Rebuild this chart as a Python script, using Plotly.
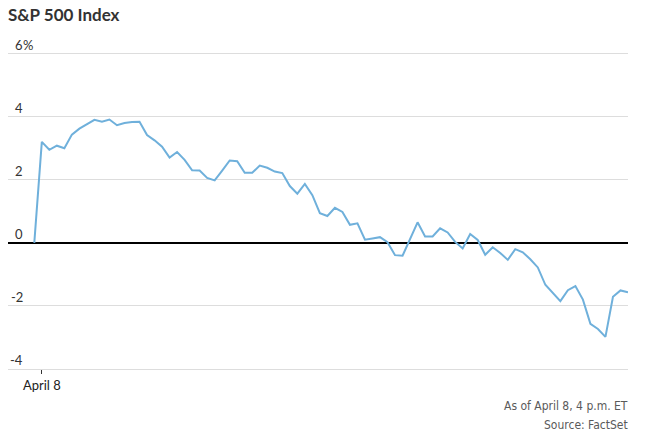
import plotly.graph_objects as go

# Percent change of the S&P 500 vs. previous close, 5-minute intervals (first point = previous close)
pct_change = [
    0.00, 3.20, 2.95, 3.08, 3.00, 3.43, 3.62, 3.75, 3.90, 3.84,
    3.91, 3.73, 3.80, 3.83, 3.84, 3.42, 3.25, 3.05, 2.70, 2.88,
    2.63, 2.30, 2.29, 2.06, 1.98, 2.29, 2.61, 2.59, 2.22, 2.22,
    2.45, 2.38, 2.26, 2.21, 1.80, 1.56, 1.87, 1.51, 0.94, 0.85,
    1.11, 0.98, 0.57, 0.62, 0.10, 0.14, 0.18, 0.02, -0.39, -0.41,
    0.11, 0.65, 0.20, 0.20, 0.46, 0.33, 0.03, -0.18, 0.28, 0.09,
    -0.38, -0.14, -0.32, -0.54, -0.20, -0.30, -0.52, -0.78, -1.33, -1.58,
    -1.85, -1.50, -1.37, -1.80, -2.57, -2.73, -2.98, -1.71, -1.51, -1.57,
]
x_index = list(range(len(pct_change)))

y_tick_vals = [-4, -2, 0, 2, 4, 6]
y_tick_labels = ["-4", "-2", "0", "2", "4", "6"]
y_top_suffix = "%"

x_tick_vals = [1]
x_tick_labels = ["April 8"]

title_text = "S&P 500 Index"
note_lines = ["As of April 8, 4 p.m. ET", "Source: FactSet"]

W, H = 648, 438
M_L, M_R, M_T, M_B = 8, 20, 52, 69
plot_h = H - M_T - M_B

fig = go.Figure()
fig.add_trace(go.Scatter(
    x=x_index, y=pct_change, mode="lines",
    line=dict(color="#6fb0db", width=2),
    hoverinfo="skip", showlegend=False,
))

annotations = []
label_font = dict(family="Lato, 'Open Sans', sans-serif", size=13, color="#333333")
for v, t in zip(y_tick_vals, y_tick_labels):
    annotations.append(dict(
        xref="paper", x=0, yref="y", y=v, text=t, showarrow=False,
        xanchor="right", yanchor="bottom", xshift=17, yshift=-1,
        font=label_font,
    ))
annotations.append(dict(
    xref="paper", x=0, yref="y", y=y_tick_vals[-1], text=y_top_suffix, showarrow=False,
    xanchor="left", yanchor="bottom", xshift=13, yshift=-1,
    font=label_font,
))

note_font = dict(family="'Liberation Sans Narrow', 'DejaVu Sans Condensed', sans-serif",
                 size=12, color="#5a5a5a")
for i, line in enumerate(note_lines):
    y_px = 405.5 + i * 19.5
    annotations.append(dict(
        xref="paper", x=1, yref="paper", y=(H - M_B - y_px) / plot_h,
        text=line, showarrow=False, xanchor="right", yanchor="middle",
        xshift=2, font=note_font,
    ))

fig.update_layout(
    width=W, height=H,
    margin=dict(l=M_L, r=M_R, t=M_T, b=M_B),
    paper_bgcolor="white", plot_bgcolor="white",
    title=dict(
        text=f"<b>{title_text}</b>",
        x=8 / W, xref="container", xanchor="left",
        y=1 - 15 / H, yref="container", yanchor="middle",
        font=dict(family="Lato, 'Open Sans', sans-serif", size=17, color="#333333"),
    ),
    xaxis=dict(
        range=[-3.5, 79], showgrid=False, zeroline=False,
        showline=True, linecolor="#dddddd", linewidth=1,
        tickmode="array", tickvals=x_tick_vals, ticktext=x_tick_labels,
        ticks="outside", ticklen=4, tickwidth=1, tickcolor="#333333",
        tickfont=dict(family="Lato, 'Open Sans', sans-serif", size=13, color="#222222"),
        fixedrange=True,
    ),
    yaxis=dict(
        range=[-4, 6.05], tickmode="array", tickvals=y_tick_vals,
        showticklabels=False, ticks="",
        showgrid=True, gridcolor="#dddddd", gridwidth=1,
        zeroline=True, zerolinecolor="#000000", zerolinewidth=1.5,
        showline=False, fixedrange=True,
    ),
    annotations=annotations,
)

fig.write_html(
    "out.html",
    config={"displayModeBar": False, "staticPlot": True},
    post_script="document.body.style.margin='0';",
)
